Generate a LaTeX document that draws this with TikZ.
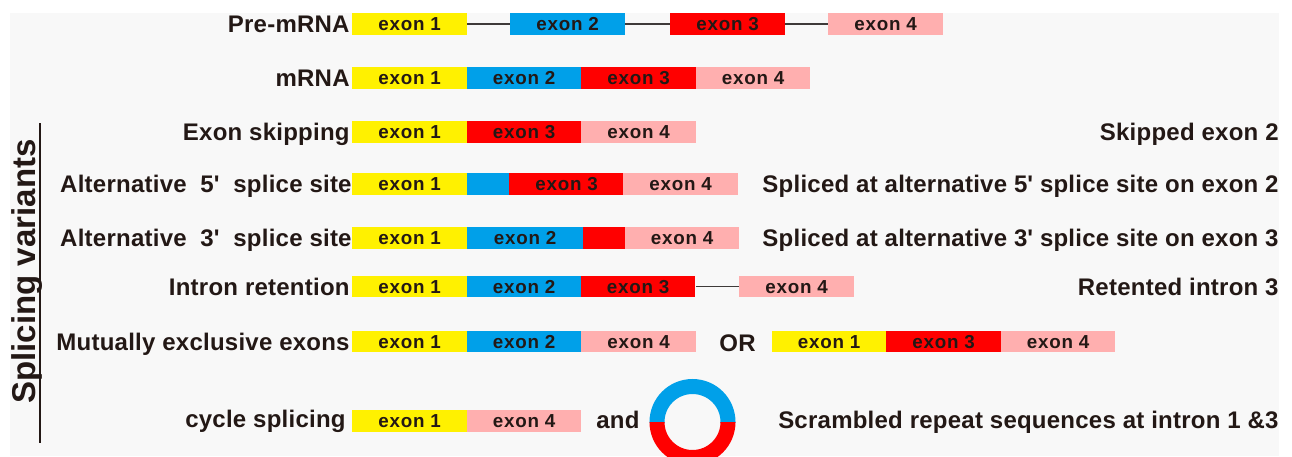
\documentclass[tikz,border=0pt]{standalone}
\usepackage{fontspec}
\setmainfont{Liberation Sans}
\newfontfamily\exonfont[LetterSpace=4]{Liberation Sans}
\newfontfamily\rowfont[LetterSpace=1]{Liberation Sans}
\usepackage{tikz}

\definecolor{exyellow}{HTML}{FFF100}
\definecolor{exblue}{HTML}{00A0E9}
\definecolor{exred}{HTML}{FF0000}
\definecolor{expink}{HTML}{FFAFAF}
\definecolor{txtcol}{HTML}{231815}
\definecolor{introncol}{HTML}{3E3A39}
\definecolor{bgcol}{HTML}{F8F8F8}

\begin{document}
\begin{tikzpicture}[x=0.5pt, y=-0.5pt]

\tikzstyle{exon} = [rectangle, anchor=west, inner sep=0pt, minimum width=57.25pt, minimum height=10.75pt, text=txtcol, text height=6.8pt, text depth=0pt, font=\exonfont\bfseries\fontsize{9.4}{11}\selectfont]
\tikzstyle{rowlabel} = [anchor=base east, inner sep=0pt, text=txtcol, font=\rowfont\bfseries\fontsize{12}{14}\selectfont]
\tikzstyle{intron} = [draw=introncol, line width=0.8pt]
\tikzstyle{ring} = [line width=7.5pt]

\useasboundingbox (0,0) rectangle (1292,456);
\fill[bgcol] (10,13) rectangle (1279,456);

%------------------------------------------------------------
	\node[rowlabel] (l0) at (350,32.8) {Pre-mRNA};
	\node[exon, fill=exyellow] (e01) at (352,23.8) {exon 1};
	\node[exon, fill=exblue]   (e02) at (510,23.8) {exon 2};
	\node[exon, fill=exred]    (e03) at (670,23.8) {exon 3};
	\node[exon, fill=expink]   (e04) at (828,23.8) {exon 4};

	\path[intron] (e01) edge (e02);
	\path[intron] (e02) edge (e03);
	\path[intron] (e03) edge (e04);

%------------------------------------------------------------
	\node[rowlabel] (l1) at (350,86.8) {mRNA};
	\node[exon, fill=exyellow] (e11) at (352,77.8)   {exon 1};
	\node[exon, fill=exblue]   (e12) at (466.5,77.8) {exon 2};
	\node[exon, fill=exred]    (e13) at (581,77.8)   {exon 3};
	\node[exon, fill=expink]   (e14) at (695.5,77.8) {exon 4};

%------------------------------------------------------------
	\coordinate (vtop) at (40,123);
	\coordinate (vbot) at (40,443);
	\draw[txtcol, line width=1.3pt] (vtop) -- (vbot);
	\node[rotate=90, anchor=base, inner sep=0pt, text=txtcol, font=\bfseries\fontsize{16.5}{18}\selectfont] (side) at (35,271.5) {Splicing variants};

%------------------------------------------------------------
	\node[rowlabel] (l2) at (350,140.8) {Exon skipping};
	\node[exon, fill=exyellow] (e21) at (352,131.8)   {exon 1};
	\node[exon, fill=exred]    (e23) at (466.5,131.8) {exon 3};
	\node[exon, fill=expink]   (e24) at (581,131.8)   {exon 4};
	\node[rowlabel] (r2) at (1279,140.8) {Skipped exon 2};

%------------------------------------------------------------
	\node[rowlabel] (l3) at (352,192.8) {Alternative\ \ 5\textquotesingle\ \ splice site};
	\node[exon, fill=exyellow] (e31) at (352,183.8) {exon 1};
	\node[exon, fill=exblue, minimum width=21.25pt] (e32) at (466.5,183.8) {};
	\node[exon, fill=exred]    (e33) at (509,183.8) {exon 3};
	\node[exon, fill=expink]   (e34) at (623,183.8) {exon 4};
	\node[rowlabel] (r3) at (1279,192.8) {Spliced at alternative 5\textquotesingle\ splice site on exon 2};

%------------------------------------------------------------
	\node[rowlabel] (l4) at (352,246.8) {Alternative\ \ 3\textquotesingle\ \ splice site};
	\node[exon, fill=exyellow] (e41) at (352,237.8) {exon 1};
	\node[exon, fill=exblue, minimum width=58.25pt] (e42) at (466.5,237.8) {exon 2};
	\node[exon, fill=exred, minimum width=20.75pt]  (e43) at (583,237.8) {};
	\node[exon, fill=expink]   (e44) at (624.5,237.8) {exon 4};
	\node[rowlabel] (r4) at (1279,246.8) {Spliced at alternative 3\textquotesingle\ splice site on exon 3};

%------------------------------------------------------------
	\node[rowlabel] (l5) at (350,295.5) {Intron retention};
	\node[exon, fill=exyellow] (e51) at (352,286.5)   {exon 1};
	\node[exon, fill=exblue]   (e52) at (466.5,286.5) {exon 2};
	\node[exon, fill=exred]    (e53) at (580.5,286.5) {exon 3};
	\node[exon, fill=expink]   (e54) at (739,286.5)   {exon 4};
	\node[rowlabel] (r5) at (1279,295.5) {Retented intron 3};

	\path[intron] (e53) edge (e54);

%------------------------------------------------------------
	\node[rowlabel] (l6) at (350,350.5) {Mutually exclusive exons};
	\node[exon, fill=exyellow] (e61) at (352,341.5)   {exon 1};
	\node[exon, fill=exblue]   (e62) at (466.5,341.5) {exon 2};
	\node[exon, fill=expink]   (e64) at (581,341.5)   {exon 4};
	\node[rowlabel, anchor=base west] (or) at (719,351.5) {OR};
	\node[exon, fill=exyellow] (f61) at (771.5,341.5)  {exon 1};
	\node[exon, fill=exred]    (f63) at (886,341.5)    {exon 3};
	\node[exon, fill=expink]   (f64) at (1000.5,341.5) {exon 4};

%------------------------------------------------------------
	\node[rowlabel] (l7) at (346,427.5) {cycle splicing};
	\node[exon, fill=exyellow] (e71) at (352,420.8)   {exon 1};
	\node[exon, fill=expink]   (e74) at (466.5,420.8) {exon 4};
	\node[rowlabel, anchor=base west] (and) at (596,428) {and};
	\coordinate (circ) at (692.5,422);
	\begin{scope}
		\clip (640,370) rectangle (750,422);
		\draw[ring, exblue] (circ) circle[radius=17.75pt];
	\end{scope}
	\begin{scope}
		\clip (640,422) rectangle (750,480);
		\draw[ring, exred] (circ) circle[radius=17.75pt];
	\end{scope}
	\node[rowlabel] (r7) at (1279,428) {Scrambled repeat sequences at intron 1 \&3};

\end{tikzpicture}
\end{document}
